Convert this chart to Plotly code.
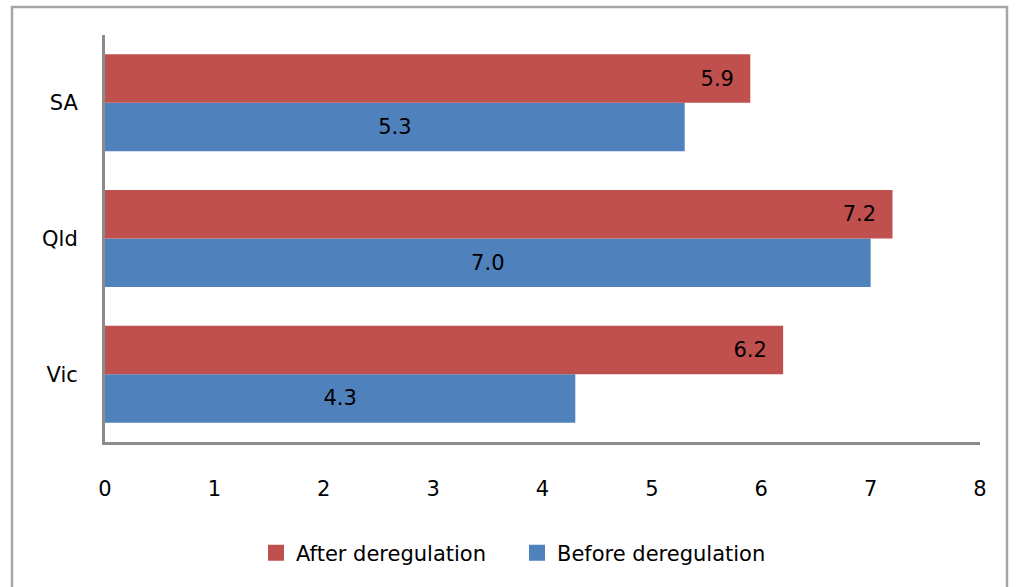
import plotly.graph_objects as go

# Categories, bottom to top
states = ["Vic", "Qld", "SA"]
before_dereg = [4.3, 7.0, 5.3]
after_dereg = [6.2, 7.2, 5.9]
x_ticks = [0, 1, 2, 3, 4, 5, 6, 7, 8]

RED = "#C0504D"
BLUE = "#4F81BD"
AXIS = "#8C8C8C"
FONT = "DejaVu Sans"
FS = 21

fig = go.Figure()

# In horizontal grouped bars the first trace sits lowest in each group
fig.add_trace(go.Bar(
    y=states, x=before_dereg, orientation="h", name="Before deregulation",
    marker=dict(color=BLUE, line=dict(width=0)),
    texttemplate="%{x:.1f}", textposition="inside", insidetextanchor="middle",
    textfont=dict(color="black", size=FS, family=FONT),
    showlegend=False, cliponaxis=False,
))
fig.add_trace(go.Bar(
    y=states, x=after_dereg, orientation="h", name="After deregulation",
    marker=dict(color=RED, line=dict(width=0)),
    texttemplate="%{x:.1f}" + "\u00a0" * 2, textposition="inside", insidetextanchor="end",
    textfont=dict(color="black", size=FS, family=FONT),
    showlegend=False, cliponaxis=False,
))

# Legend entries with larger square keys
for name, color in [("After deregulation", RED), ("Before deregulation", BLUE)]:
    fig.add_trace(go.Scatter(
        x=[None], y=[None], mode="markers", name=name,
        marker=dict(symbol="square", size=16, color=color),
    ))

fig.update_layout(
    width=1018, height=587,
    margin=dict(l=105, r=38, t=35, b=145),
    paper_bgcolor="white", plot_bgcolor="white",
    barmode="group", bargap=0.285, bargroupgap=0,
    font=dict(family=FONT, size=FS, color="black"),
    showlegend=True,
    legend=dict(
        orientation="h", x=(256 - 105) / 875, xanchor="left",
        y=-0.2727, yanchor="middle",
        traceorder="normal", font=dict(size=FS, family=FONT),
        itemwidth=30, tracegroupgap=0, entrywidth=216,
    ),
    xaxis=dict(
        range=[0, 8], tickvals=x_ticks, showgrid=False, zeroline=False,
        showline=True, linecolor=AXIS, linewidth=3, ticks="",
        ticklabelstandoff=26, tickfont=dict(size=FS, family=FONT),
        fixedrange=True,
    ),
    yaxis=dict(
        categoryorder="array", categoryarray=states, showgrid=False,
        showline=True, linecolor=AXIS, linewidth=3, ticks="",
        ticklabelstandoff=20, tickfont=dict(size=FS, family=FONT),
        fixedrange=True,
    ),
    shapes=[dict(
        type="rect", xref="paper", yref="paper",
        x0=(12 - 105) / 875, x1=(1007 - 105) / 875,
        y0=(442 - 600) / 407, y1=(442 - 7) / 407,
        line=dict(color="#A6A6A6", width=2.5), fillcolor="rgba(0,0,0,0)",
        layer="below",
    )],
)

fig.write_html("out.html")
